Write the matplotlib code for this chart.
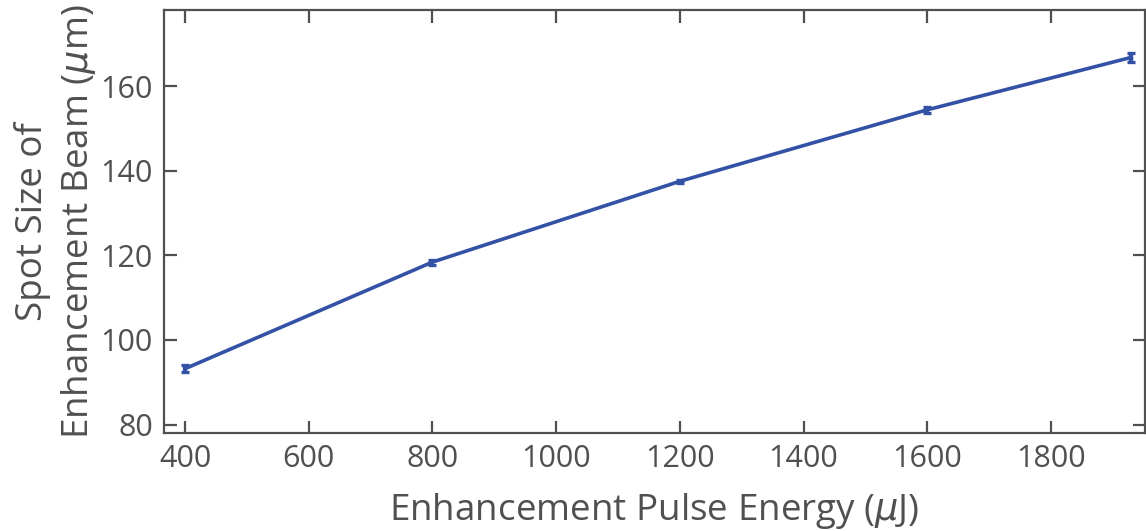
import matplotlib.pyplot as plt

energy = [400, 800, 1200, 1600, 1930]
spot = [93.2, 118.4, 137.5, 154.4, 166.8]
err = [0.9, 0.6, 0.4, 0.7, 1.0]

plt.rcParams['font.family'] = ['Open Sans', 'DejaVu Sans']
gray = '#505050'

fig = plt.figure(figsize=(11.46, 5.31), dpi=100)
ax = fig.add_axes([0.1431, 0.1846, 0.8560, 0.7966])

ax.errorbar(energy, spot, yerr=err, color='#3452A5', linewidth=2.6,
            capsize=3, capthick=2.4, elinewidth=3)

ax.set_xlim(366, 1952)
ax.set_ylim(78, 178)
ax.set_xticks([400, 600, 800, 1000, 1200, 1400, 1600, 1800])
ax.set_yticks([80, 100, 120, 140, 160])

for s in ax.spines.values():
    s.set_color(gray)
    s.set_linewidth(1.6)
ax.tick_params(direction='in', length=9, width=1.6, color=gray,
               labelcolor=gray, labelsize=22, top=True, right=True, pad=8)

ax.set_xlabel('Enhancement Pulse Energy ($\\mu$J)', fontsize=26.5, color=gray, labelpad=12)
ax.set_ylabel('Spot Size of\nEnhancement Beam ($\\mu$m)', fontsize=26.5, color=gray,
              labelpad=1.5, linespacing=1.3)

fig.savefig('out.png', dpi=100)
